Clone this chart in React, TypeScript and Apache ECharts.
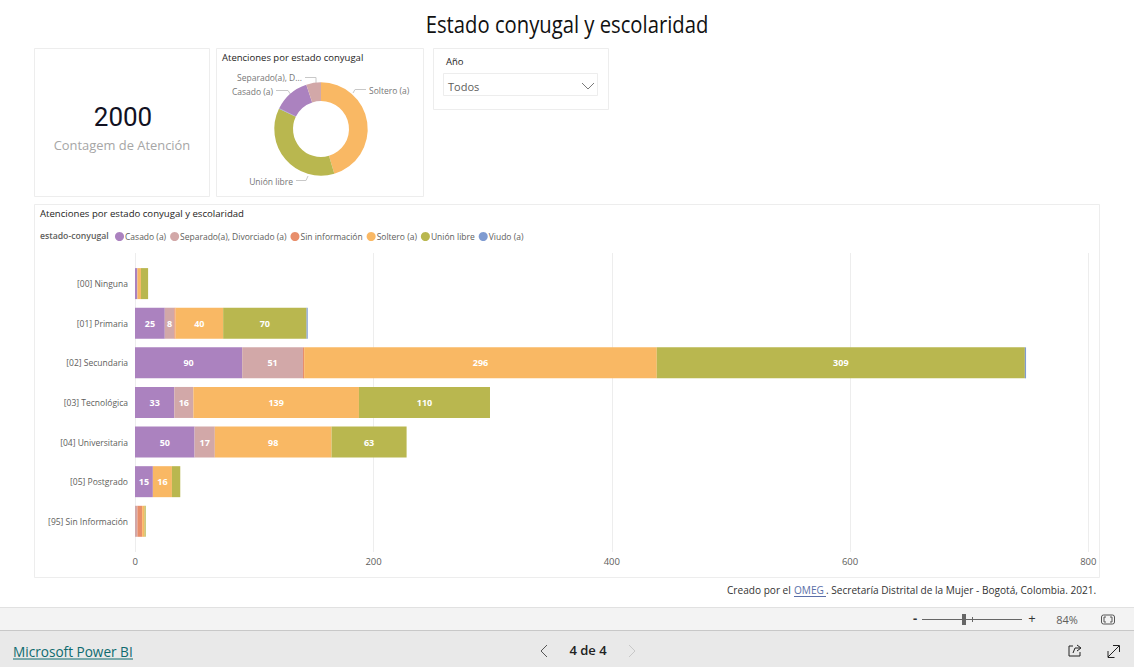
import React, { useEffect, useRef } from "react";
import * as echarts from "echarts";

const categories = ["[00] Ninguna", "[01] Primaria", "[02] Secundaria", "[03] Tecnológica", "[04] Universitaria", "[05] Postgrado", "[95] Sin Información"];
const casado = [2, 25, 90, 33, 50, 15, 0];
const separado = [0, 8, 51, 16, 17, 0, 2];
const sinInfo = [0, 1, 1, 0, 0, 0, 4];
const soltero = [3, 40, 296, 139, 98, 16, 2];
const union = [6, 70, 309, 110, 63, 7, 1];
const viudo = [0, 1, 1, 0, 0, 0, 0];
const seriesNames = ["Casado (a)", "Separado(a), Divorciado (a)", "Sin información", "Soltero (a)", "Unión libre", "Viudo (a)"];
const seriesValues = [casado, separado, sinInfo, soltero, union, viudo];
const colors = ["#AB82BF", "#D2A8A8", "#E88E6B", "#F9B864", "#B9B74F", "#7F9BD1"];
const donutNames = ["Soltero (a)", "Unión libre", "Viudo (a)", "Sin información", "Casado (a)", "Separado(a), Divorciado (a)"];
const donutValues = [908, 735, 3, 1, 251, 102];
const donutColors = ["#F9B864", "#B9B74F", "#7F9BD1", "#E88E6B", "#AB82BF", "#D2A8A8"];
const xTicks = [0, 200, 400, 600, 800];

const FONT = "'Open Sans', sans-serif";
const CARD = "#EDEDED";

const card = (x: number, y: number, w: number, h: number) => ({
  type: "rect", shape: { x: x + 0.5, y: y + 0.5, width: w, height: h }, silent: true,
  style: { fill: "transparent", stroke: CARD, lineWidth: 1 },
});
const txt = (text: string, x: number, y: number, size: number, fill: string, align = "left", extra: any = {}, scaleX = 1) => ({
  type: "text", x, y, scaleX, silent: true,
  style: { text, fontSize: size, fill, fontFamily: FONT, textAlign: align, textVerticalAlign: "middle", ...extra },
});
const line = (x1: number, y1: number, x2: number, y2: number, stroke: string, lineWidth = 1) => ({
  type: "line", silent: true, shape: { x1, y1, x2, y2 }, style: { stroke, lineWidth },
});
const poly = (points: number[][], stroke: string, lineWidth = 1) => ({
  type: "polyline", silent: true, shape: { points }, style: { stroke, lineWidth, fill: "none" },
});
const box = (x: number, y: number, width: number, height: number, fill: string, stroke?: string) => ({
  type: "rect", silent: true, shape: { x, y, width, height }, style: { fill, stroke: stroke || "none", lineWidth: 1 },
});

const donutLabelPlacement: Record<string, any> = {
  "Soltero (a)": { x: 369, y: 90, align: "left", labelLinePoints: [[353, 93], [355, 89.5], [366, 89.5]] },
  "Unión libre": { x: 293, y: 181, align: "right", labelLinePoints: [[308, 176], [306, 180.5], [296, 180.5]] },
  "Casado (a)": { x: 273, y: 91, align: "right", labelLinePoints: [[291, 95], [288, 90.5], [276, 90.5]] },
  "Separado(a), Divorciado (a)": { x: 302, y: 77.5, align: "right", labelLinePoints: [[316, 83], [316, 77.5], [305, 77.5]] },
};

export default function App() {
  const ref = useRef<HTMLDivElement>(null);
  useEffect(() => {
    document.body.style.margin = "0";
    const chart = echarts.init(ref.current!, undefined, { renderer: "svg" });
    chart.setOption({
      animation: false,
      backgroundColor: "#FFFFFF",
      textStyle: { fontFamily: FONT },
      color: colors,
      legend: {
        left: 115, top: 232, icon: "circle", itemWidth: 9, itemHeight: 9, itemGap: 4,
        selectedMode: false, padding: 0,
        data: seriesNames,
        textStyle: { fontFamily: FONT, fontSize: 8.5, color: "#605E5C", padding: [0, 0, 0, -4] },
      },
      grid: [
        { left: 135.3, width: 953, top: 253, height: 299 },
        { left: 135, width: 953, top: 263.8, height: 277.3 },
      ],
      xAxis: [
        {
          gridIndex: 0, type: "value", min: 0, max: 800, interval: 200,
          axisLine: { show: false }, axisTick: { show: false },
          splitLine: { show: true, lineStyle: { color: "#EDEDED", width: 1 } },
          axisLabel: { color: "#605E5C", fontSize: 9.5, margin: 4, fontFamily: FONT,
            formatter: (v: number) => (xTicks.includes(v) ? String(v) : "") },
        },
        { gridIndex: 1, type: "value", min: 0, max: 800, interval: 200, show: false },
      ],
      yAxis: [
        { gridIndex: 0, type: "value", min: 0, max: 1, show: false },
        {
          gridIndex: 1, type: "category", inverse: true, data: categories,
          axisLine: { show: false }, axisTick: { show: false },
          axisLabel: { color: "#605E5C", fontSize: 8.5, margin: 7, fontFamily: FONT },
        },
      ],
      series: [
        ...seriesNames.map((name, i) => ({
          type: "bar", name, stack: "total", xAxisIndex: 1, yAxisIndex: 1,
          barWidth: 31, data: seriesValues[i],
          itemStyle: { color: colors[i] },
          label: {
            show: true, position: "inside", color: "#FFFFFF", fontSize: 9, fontWeight: "bold", fontFamily: FONT,
            formatter: (p: any) => (p.value >= 8 ? String(p.value) : ""),
          },
        })),
        {
          type: "pie", center: [321, 129], radius: [28, 46.7], startAngle: 90, clockwise: true,
          itemStyle: { borderWidth: 0 },
          label: { fontSize: 8.5, color: "#777777", fontFamily: FONT, verticalAlign: "middle",
            formatter: (p: any) => (p.name.length > 16 ? p.name.slice(0, 13) + "D..." : p.name) },
          labelLine: { length: 10, length2: 12, lineStyle: { color: "#C8C8C8", width: 1 } },
          labelLayout: (p: any) => {
            const name = donutNames[p.dataIndex];
            const placed = donutLabelPlacement[name];
            return placed ? { ...placed, verticalAlign: "middle" } : {};
          },
          data: donutNames.map((name, i) => ({
            name, value: donutValues[i], itemStyle: { color: donutColors[i] },
            label: { show: donutValues[i] > 50 }, labelLine: { show: donutValues[i] > 50 },
          })),
        },
      ],
      graphic: [
        card(34, 48, 175, 148),
        card(216, 48, 207, 148),
        card(433, 48, 175, 61),
        card(34, 204, 1065, 373),
        txt("Estado conyugal y escolaridad", 567, 24, 23, "#111111", "center", {}, 0.88),
        txt("2000", 123, 117, 26, "#111122", "center", { fontWeight: 400, fontFamily: "Roboto" }),
        txt("Contagem de Atención", 122, 145, 12.9, "#A6A6A6", "center"),
        txt("Atenciones por estado conyugal", 222, 57, 9.5, "#252423"),
        txt("Año", 446, 61, 9.5, "#252423"),
        box(443.5, 73.5, 154, 22, "#FFFFFF", "#EDEDED"),
        txt("Todos", 448, 86, 11, "#605E5C"),
        poly([[582, 83], [588, 89], [594, 83]], "#7A7A7A"),
        txt("Atenciones por estado conyugal y escolaridad", 40, 213, 9.6, "#252423"),
        txt("estado-conyugal", 40, 236, 8.7, "#605E5C", "left", { fontWeight: 600 }),
        txt("Creado por el ", 727, 590, 10.1, "#333333"),
        txt("OMEG", 794, 590, 10.1, "#5B6FA8"),
        line(794, 596.5, 826, 596.5, "#5B6FA8"),
        txt(". Secretaría Distrital de la Mujer - Bogotá, Colombia. 2021.", 826, 590, 10.1, "#333333"),
        box(0, 607, 1134, 24, "#F3F3F3"),
        line(0, 607.5, 1134, 607.5, "#E1E1E1"),
        box(0, 631, 1134, 36, "#E9E9E9"),
        line(0, 630.5, 1134, 630.5, "#C8C8C8"),
        txt("-", 915, 618, 13, "#333333", "center", { fontWeight: "bold" }),
        line(922, 619.5, 1022, 619.5, "#666666"),
        box(962, 614, 4, 11, "#666666"),
        line(972.5, 617, 972.5, 622, "#666666"),
        txt("+", 1032, 618, 13, "#333333", "center"),
        txt("84%", 1067, 619, 11, "#605E5C", "center"),
        { type: "rect", silent: true, shape: { x: 1101.5, y: 615, width: 13, height: 9, r: 2 }, style: { fill: "none", stroke: "#555555", lineWidth: 1 } },
        poly([[1106, 617], [1104, 617], [1104, 622], [1106, 622]], "#555555"),
        poly([[1110, 617], [1112, 617], [1112, 622], [1110, 622]], "#555555"),
        txt("Microsoft Power BI", 13, 651, 13.6, "#0E6B6F", "left", { fontWeight: 500 }),
        line(13, 659, 133, 659, "#0E6B6F"),
        poly([[547, 645], [541, 651], [547, 657]], "#555555"),
        txt("4 de 4", 588, 650, 13, "#222222", "center", { fontWeight: 600 }),
        poly([[629, 645], [635, 651], [629, 657]], "#C8C8C8"),
        poly([[1073, 646], [1069, 646], [1069, 656], [1080, 656], [1080, 652]], "#222222"),
        poly([[1073, 653], [1075, 648], [1080, 648]], "#222222"),
        poly([[1077, 645], [1081, 648], [1077, 651]], "#222222"),
        line(1108, 657, 1119, 646, "#222222"),
        poly([[1113, 645.5], [1119.5, 645.5], [1119.5, 652]], "#222222"),
        poly([[1108, 651], [1108, 657.5], [1114.5, 657.5]], "#222222"),
      ],
    });
    return () => chart.dispose();
  }, []);
  return <div ref={ref} style={{ position: "fixed", left: 0, top: 0, width: 1134, height: 667 }} />;
}
